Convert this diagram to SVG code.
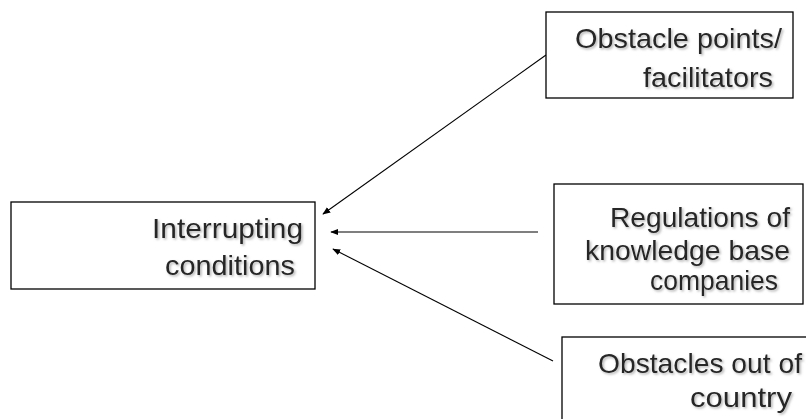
<svg xmlns="http://www.w3.org/2000/svg" width="806" height="419" viewBox="0 0 806 419">
<style>
.box{fill:#fff;stroke:#000;stroke-width:1.3}
.t{font-family:"Liberation Sans",Arial,sans-serif;font-size:28px;fill:#262626;text-anchor:end;filter:url(#sh)}
.c{stroke:#000;stroke-width:1.1;fill:none;marker-end:url(#ah)}
</style>
<defs>
<filter id="sh" x="-10%" y="-30%" width="120%" height="160%">
<feDropShadow dx="1.5" dy="1.5" stdDeviation="1" flood-color="#808080" flood-opacity="0.6"/>
</filter>
<marker id="ah" viewBox="0 0 10 10" refX="9" refY="5" markerWidth="8" markerHeight="8" markerUnits="userSpaceOnUse" orient="auto">
<path d="M0,1 L10,5 L0,9 Z" fill="#000"/>
</marker>
</defs>
<g id="connectors">
<line class="c" x1="546" y1="55" x2="323" y2="214"/>
<line class="c" x1="538" y1="232" x2="331" y2="232"/>
<line class="c" x1="553" y1="361" x2="333" y2="249"/>
</g>
<g id="n-obstacle-points">
<rect class="box" x="546" y="12" width="247" height="86"/>
<text class="t" x="782" y="48" textLength="207" lengthAdjust="spacingAndGlyphs">Obstacle points/</text>
<text class="t" x="773" y="87" textLength="130" lengthAdjust="spacingAndGlyphs">facilitators</text>
</g>
<g id="n-interrupting">
<rect class="box" x="11" y="202" width="304" height="87"/>
<text class="t" x="303" y="238" textLength="151" lengthAdjust="spacingAndGlyphs">Interrupting</text>
<text class="t" x="295" y="275" textLength="130" lengthAdjust="spacingAndGlyphs">conditions</text>
</g>
<g id="n-regulations">
<rect class="box" x="554" y="184" width="249" height="120"/>
<text class="t" x="790" y="227" textLength="180" lengthAdjust="spacingAndGlyphs">Regulations of</text>
<text class="t" x="790" y="260" textLength="205" lengthAdjust="spacingAndGlyphs">knowledge base</text>
<text class="t" x="778" y="290" textLength="128" lengthAdjust="spacingAndGlyphs">companies</text>
</g>
<g id="n-obstacles-out">
<rect class="box" x="562" y="337" width="260" height="100"/>
<text class="t" x="802" y="373" textLength="204" lengthAdjust="spacingAndGlyphs">Obstacles out of</text>
<text class="t" x="792" y="407" textLength="102" lengthAdjust="spacingAndGlyphs">country</text>
</g>
</svg>
